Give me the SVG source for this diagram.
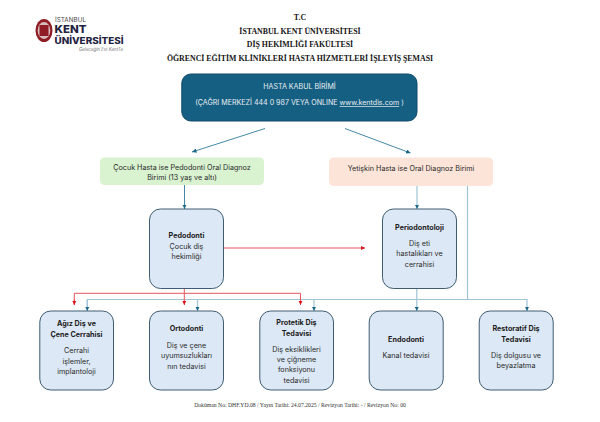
<svg xmlns="http://www.w3.org/2000/svg" width="600" height="422" viewBox="0 0 600 422">
<style>
text{font-family:"Inter","Noto Sans","Liberation Sans",sans-serif;text-anchor:middle;fill:#2a2a2a;font-size:7.2px}
.h{font-family:"Liberation Serif",serif;font-weight:700;font-size:7.85px;fill:#151515}
.b{font-weight:700;fill:#1c1c1c}
.w{fill:#e8eef2;font-size:7.1px}
.box{fill:#dce8f5;stroke:#3f5c70;stroke-width:1}
.bl{fill:none;stroke:#a0c4d6;stroke-width:1.2}
.dk{fill:none;stroke:#2f7a9c;stroke-width:.9}
.rd{fill:none;stroke:#e4565e;stroke-width:1}
</style>
<defs>
<marker id="ab" markerUnits="userSpaceOnUse" markerWidth="5" markerHeight="4.400" refX="4.500" refY="2.200" orient="auto"><path d="M0 0L4.500 2.200L0 4.400z" fill="#1a6788"/></marker>
<marker id="ar" markerUnits="userSpaceOnUse" markerWidth="5" markerHeight="4.400" refX="4.500" refY="2.200" orient="auto"><path d="M0 0L4.500 2.200L0 4.400z" fill="#d8141c"/></marker>
</defs>
<rect width="600" height="422" fill="#fff"/>
<g id="logo">
<ellipse cx="44" cy="30.500" rx="8.500" ry="11.500" fill="#8f1d26"/>
<ellipse cx="44" cy="30.500" rx="6.300" ry="8.500" fill="#d8bcbc"/>
<rect x="39.500" y="25" width="9" height="11" fill="#8f1d26"/>
<text x="55" y="22" textLength="31" lengthAdjust="spacingAndGlyphs" style="text-anchor:start;font-size:5.500px;fill:#4a4a4a">İSTANBUL</text>
<text x="54.500" y="33" textLength="32" lengthAdjust="spacingAndGlyphs" style="text-anchor:start;font-size:10px;font-weight:800;fill:#23233f">KENT</text>
<text x="54.500" y="43.800" textLength="69" lengthAdjust="spacingAndGlyphs" style="text-anchor:start;font-size:8.600px;font-weight:800;fill:#23233f">ÜNİVERSİTESİ</text>
<text x="79" y="50.700" textLength="44" lengthAdjust="spacingAndGlyphs" style="text-anchor:start;font-size:4.300px;font-style:italic;fill:#777">Geleceğin Evi KentTe</text>
</g>
<g id="title">
<text class="h" x="300" y="20">T.C</text>
<text class="h" x="300" y="33.500">İSTANBUL KENT ÜNİVERSİTESİ</text>
<text class="h" x="300" y="47">DİŞ HEKİMLİĞİ FAKÜLTESİ</text>
<text class="h" x="300" y="61">ÖĞRENCİ EĞİTİM KLİNİKLERİ HASTA HİZMETLERİ İŞLEYİŞ ŞEMASI</text>
</g>
<g id="connectors">
<path class="dk" d="M265 128.500L192 152" marker-end="url(#ab)"/>
<path class="dk" d="M345 128.500L410.500 153" marker-end="url(#ab)"/>
<path class="dk" d="M184.500 185V209" marker-end="url(#ab)"/>
<path class="bl" d="M417 186V209" marker-end="url(#ab)"/>
<path class="bl" d="M467.500 186V299.500"/>
<path class="bl" d="M416.800 288V311" marker-end="url(#ab)"/>
<path class="bl" d="M87.300 311V299.500H527V311" marker-end="url(#ab)"/>
<path class="bl" d="M87.300 300V311" marker-end="url(#ab)"/>
<path class="bl" d="M197.500 299.500V311" marker-end="url(#ab)"/>
<path class="bl" d="M314 299.500V311" marker-end="url(#ab)"/>
<path class="rd" d="M223.500 248H365" marker-end="url(#ar)"/>
<path class="rd" d="M74.300 305V293.300H300.500V305" marker-end="url(#ar)"/>
<path class="rd" d="M184.300 288V305" marker-end="url(#ar)"/>
<path class="rd" d="M74.300 299V305" marker-end="url(#ar)"/>
</g>
<g id="n-kabul">
<rect x="181.800" y="74" width="235.200" height="47" rx="9" fill="#155f82" stroke="#0f4a68"/>
<text class="w" x="299.500" y="88.500">HASTA KABUL BİRİMİ</text>
<text class="w" x="299.500" y="105">(ÇAĞRI MERKEZİ 444 0 987 VEYA ONLINE <tspan text-decoration="underline">www.kentdis.com</tspan> )</text>
</g>
<g id="n-cocuk">
<rect x="100" y="157.500" width="164" height="27.500" rx="4.500" fill="#d9f2d0"/>
<text x="182" y="169.500">Çocuk Hasta ise Pedodonti Oral Diagnoz</text>
<text x="182" y="179.500">Birimi (13 yaş ve altı)</text>
</g>
<g id="n-yetiskin">
<rect x="329" y="157.500" width="164" height="28.500" rx="4.500" fill="#fce4d8"/>
<text x="411" y="171">Yetişkin Hasta ise Oral Diagnoz Birimi</text>
</g>
<g id="n-pedodonti">
<rect class="box" x="149.500" y="209" width="74" height="79.500" rx="11"/>
<text class="b" x="186.500" y="238">Pedodonti</text>
<text x="186.500" y="248.500">Çocuk diş</text>
<text x="186.500" y="259">hekimliği</text>
</g>
<g id="n-periodontoloji">
<rect class="box" x="382.500" y="209" width="74" height="79.500" rx="11"/>
<text class="b" x="419.500" y="230">Periodontoloji</text>
<text x="419.500" y="246">Diş eti</text>
<text x="419.500" y="256">hastalıkları ve</text>
<text x="419.500" y="267">cerrahisi</text>
</g>
<g id="n-agiz">
<rect class="box" x="39.800" y="311" width="73.700" height="79" rx="11"/>
<text class="b" x="76.500" y="326">Ağız Diş ve</text>
<text class="b" x="76.500" y="337">Çene Cerrahisi</text>
<text x="76.500" y="353">Cerrahi</text>
<text x="76.500" y="363.500">işlemler,</text>
<text x="76.500" y="374">implantoloji</text>
</g>
<g id="n-ortodonti">
<rect class="box" x="149.500" y="311" width="74" height="79" rx="11"/>
<text class="b" x="186.500" y="331">Ortodonti</text>
<text x="186.500" y="347.500">Diş ve çene</text>
<text x="186.500" y="358">uyumsuzlukları</text>
<text x="186.500" y="368.500">nın tedavisi</text>
</g>
<g id="n-protetik">
<rect class="box" x="259.800" y="311" width="73.700" height="79" rx="11"/>
<text class="b" x="296.500" y="325">Protetik Diş</text>
<text class="b" x="296.500" y="336">Tedavisi</text>
<text x="296.500" y="351.500">Diş eksiklikleri</text>
<text x="296.500" y="362">ve çiğneme</text>
<text x="296.500" y="372">fonksiyonu</text>
<text x="296.500" y="382.500">tedavisi</text>
</g>
<g id="n-endodonti">
<rect class="box" x="369.200" y="311" width="74" height="79" rx="11"/>
<text class="b" x="406" y="342">Endodonti</text>
<text x="406" y="358">Kanal tedavisi</text>
</g>
<g id="n-restoratif">
<rect class="box" x="479.200" y="311" width="74" height="79" rx="11"/>
<text class="b" x="516" y="331">Restoratif Diş</text>
<text class="b" x="516" y="342">Tedavisi</text>
<text x="516" y="358">Diş dolgusu ve</text>
<text x="516" y="368">beyazlatma</text>
</g>
<g id="footer">
<text x="300" y="406.500" style="font-family:'Liberation Serif',serif;font-size:5.700px;fill:#333">Doküman No: DHF.YD.08 / Yayın Tarihi: 24.07.2025 / Revizyon Tarihi: - / Revizyon No: 00</text>
</g>
</svg>
